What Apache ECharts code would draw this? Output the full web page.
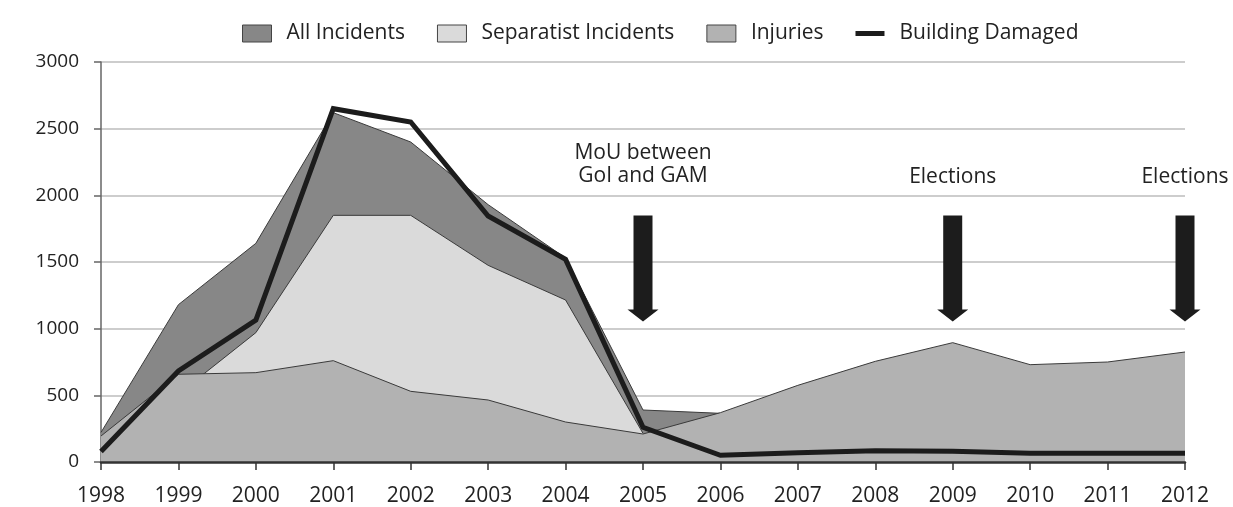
<!DOCTYPE html>
<html>
<head>
<meta charset="utf-8">
<script src="https://cdn.jsdelivr.net/npm/echarts@6/dist/echarts.min.js"></script>
<style>
  html, body { margin: 0; padding: 0; background: #fff; }
  #chart { width: 1233px; height: 507px; }
</style>
</head>
<body>
<div id="chart"></div>
<script>
// data
const years = ['1998', '1999', '2000', '2001', '2002', '2003', '2004', '2005',
  '2006', '2007', '2008', '2009', '2010', '2011', '2012'];
const allIncidents = [222, 1180, 1640, 2620, 2400, 1930, 1530, 390, 365,
  null, null, null, null, null, null];
const separatistIncidents = [150, 510, 970, 1850, 1850, 1475, 1215, 215,
  null, null, null, null, null, null, null];
const injuries = [195, 658, 670, 760, 530, 465, 300, 210, 370, 575, 755, 895, 730, 750, 825];
const buildingDamaged = [78, 683, 1065, 2650, 2550, 1845, 1520, 260, 50, 70, 85, 80, 65, 65, 65];
const yTicks = { min: 0, max: 3000, interval: 500 };

// annotations: [year, label, label level, arrow middle]
const events = [
  ['2005', 'MoU between\nGoI and GAM', 2229, 1452],
  ['2009', 'Elections', 2140, 1452],
  ['2012', 'Elections', 2140, 1452]
];

const font = 'Open Sans';
const arrow = 'path://M6,0 H25 V94 H31 L15.5,106 L0,94 H6 Z';

const chart = echarts.init(document.getElementById('chart'));

const markData = [];
events.forEach(e => {
  markData.push({
    coord: [e[0], e[3]],
    symbol: arrow,
    symbolSize: [31, 106],
    itemStyle: { color: '#1c1c1c' },
    label: { show: false }
  });
  markData.push({
    coord: [e[0], e[2]],
    symbol: 'rect',
    symbolSize: 1,
    itemStyle: { color: 'rgba(0,0,0,0)' },
    label: {
      show: true,
      position: 'inside',
      formatter: e[1],
      fontFamily: font,
      fontSize: 21,
      lineHeight: 23,
      color: '#222',
      align: 'center'
    }
  });
});

// every series on its own z so an area covers the outline of the one behind it
function area(name, data, color, z) {
  return {
    name: name,
    type: 'line',
    z: z,
    data: data,
    symbol: 'none',
    connectNulls: false,
    lineStyle: { color: '#3a3a3a', width: 1 },
    itemStyle: { color: color },
    areaStyle: { color: color, opacity: 1 },
    emphasis: { disabled: true }
  };
}

const option = {
  animation: false,
  textStyle: { fontFamily: font },
  legend: {
    left: 237,
    top: 18,
    itemWidth: 29,
    itemHeight: 17,
    itemGap: 32,
    textStyle: { fontFamily: font, fontSize: 21, color: '#222', padding: [0, 0, 0, 10] },
    data: [
      { name: 'All Incidents', icon: 'rect', itemStyle: { color: '#878787', borderColor: '#444', borderWidth: 1 } },
      { name: 'Separatist Incidents', icon: 'rect', itemStyle: { color: '#dadada', borderColor: '#444', borderWidth: 1 } },
      { name: 'Injuries', icon: 'rect', itemStyle: { color: '#b2b2b2', borderColor: '#444', borderWidth: 1 } },
      { name: 'Building Damaged', icon: 'path://M0,0 H29 V5 H0 Z', itemStyle: { color: '#1c1c1c', borderWidth: 0 } }
    ]
  },
  grid: { left: 101, right: 48, top: 62, bottom: 44 },
  xAxis: {
    type: 'category',
    data: years,
    boundaryGap: false,
    z: 10,
    axisLine: { lineStyle: { color: '#333', width: 2.5 } },
    axisTick: { show: true, length: 8, lineStyle: { color: '#333', width: 1.5 } },
    axisLabel: { fontFamily: font, fontSize: 21, color: '#222', margin: 24 },
    splitLine: { show: false }
  },
  yAxis: {
    type: 'value',
    min: yTicks.min,
    max: yTicks.max,
    interval: yTicks.interval,
    axisLine: { show: true, lineStyle: { color: '#666', width: 1.5 } },
    axisTick: { show: true, length: 7, lineStyle: { color: '#666', width: 1.5 } },
    axisLabel: { fontFamily: font, fontSize: 19, color: '#222', margin: 22, formatter: v => String(v) },
    splitLine: { lineStyle: { color: '#bdbdbd', width: 1.5 } }
  },
  series: [
    area('All Incidents', allIncidents, '#878787', 2),
    area('Separatist Incidents', separatistIncidents, '#dadada', 3),
    area('Injuries', injuries, '#b2b2b2', 4),
    {
      name: 'Building Damaged',
      type: 'line',
      z: 5,
      data: buildingDamaged,
      symbol: 'none',
      itemStyle: { color: '#1c1c1c' },
      lineStyle: { color: '#1c1c1c', width: 5, join: 'miter', cap: 'butt' },
      emphasis: { disabled: true },
      markPoint: { silent: true, animation: false, data: markData }
    }
  ]
};

chart.setOption(option);
</script>
</body>
</html>
